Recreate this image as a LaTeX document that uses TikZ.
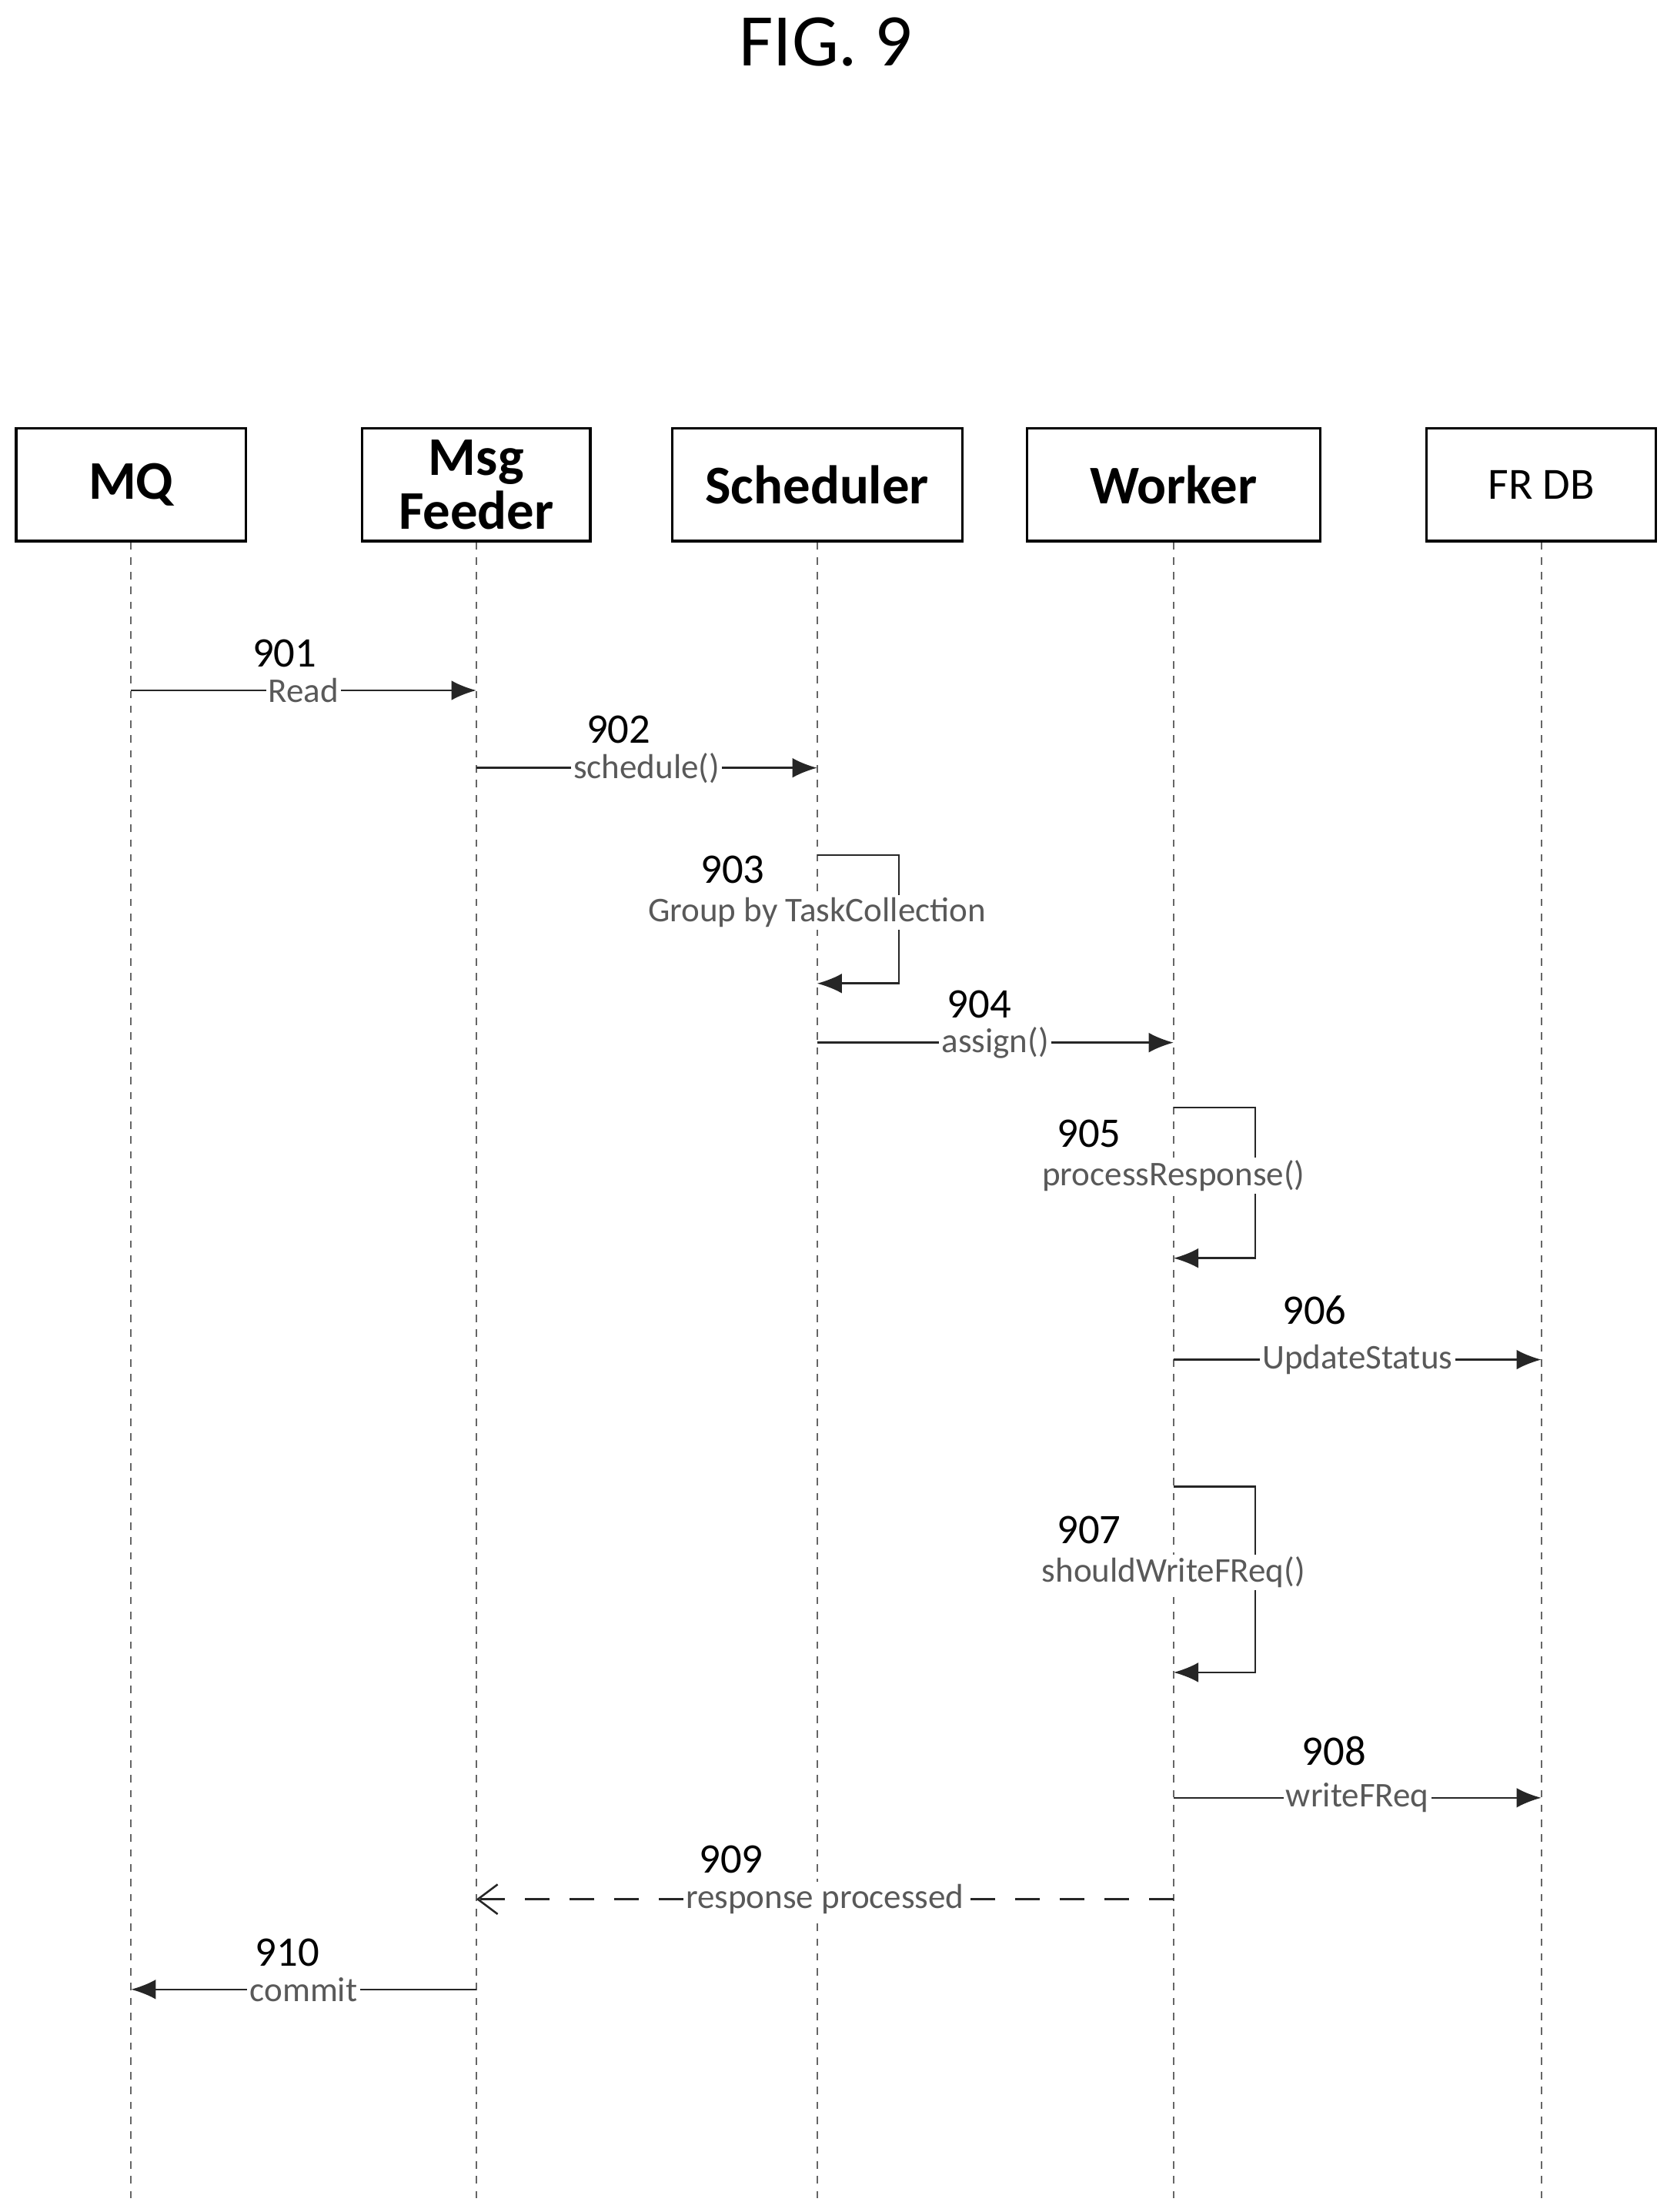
\documentclass[tikz,border=0pt]{standalone}
\usepackage{fontspec}
\setmainfont{Carlito}
\usetikzlibrary{arrows.meta}
\begin{document}
\begin{tikzpicture}
[x=0.02cm,y=-0.02cm]
\tikzset{box/.style={draw,line width=1pt,minimum width=#1*0.02cm,minimum height=1.6cm,inner sep=0pt,align=center},
life/.style={dashed,gray!80!black,line width=0.6pt},
msg/.style={->,>={Latex[length=10pt,width=8pt]},line width=0.8pt,gray!30!black},
ret/.style={->,>={Straight Barb[length=8pt,width=12pt]},dashed,dash pattern=on 10pt off 8pt,line width=0.8pt,gray!30!black},
num/.style={font=\fontsize{17}{19}\selectfont},
lab/.style={fill=white,inner sep=1pt,font=\fontsize{14}{16}\selectfont,text=gray!70!black}}
\useasboundingbox (0,0) rectangle (1190,1570);
\node[font=\fontsize{30}{34}\selectfont] (title) at (586,30) {FIG. 9};
\node[box=163,font=\fontsize{22}{24}\selectfont\bfseries] (mq) at (93,344) {MQ};
\node[box=162,font=\fontsize{22}{22}\selectfont\bfseries] (mf) at (338,344) {Msg\\Feeder};
\node[box=206,font=\fontsize{22}{24}\selectfont\bfseries] (sc) at (580,344) {Scheduler};
\node[box=208,font=\fontsize{22}{24}\selectfont\bfseries] (wk) at (833,344) {Worker};
\node[box=163,font=\fontsize{18}{20}\selectfont] (db) at (1094,344) {FR DB};
\foreach \n/\x in {mq/93,mf/338,sc/580,wk/833,db/1094}
{
\coordinate (\n e) at (\x,1560);
\draw[life] (\n.south) -- (\n e);
}
% messages
\foreach \a/\b/\y/\k/\t/\nx/\ny in {93/338/490/901/Read/202/464,338/580/545/902/schedule()/439/518,580/833/740/904/assign()/695/713,833/1094/965/906/UpdateStatus/933/930,833/1094/1276/908/writeFReq/947/1243}
{
\coordinate (s\k) at (\a,\y);
\coordinate (t\k) at (\b,\y);
\draw[msg] (s\k) -- (t\k) node[midway,lab] {\t};
\node[num] (n\k) at (\nx,\ny) {\k};
}
% self calls
\foreach \x/\ya/\yb/\k/\t in {580/607/698/903/Group by TaskCollection,833/786/893/905/processResponse(),833/1055/1187/907/shouldWriteFReq()}
{
\coordinate (a\k) at (\x,\ya);
\coordinate (b\k) at (\x,\yb);
\draw[msg] (a\k) -- ++(58,0) |- (b\k);
\node[lab] (l\k) at (\x,{(\ya+\yb)/2-5}) {\t};
\node[num] (n\k) at ([xshift=-1.2cm,yshift=0.6cm]l\k) {\k};
}
\coordinate (s909) at (833,1348);
\coordinate (t909) at (338,1348);
\draw[ret] (s909) -- (t909) node[pos=0.5,lab] {response processed};
\node[num] (n909) at (519,1320) {909};
\coordinate (s910) at (338,1412);
\coordinate (t910) at (93,1412);
\draw[msg] (s910) -- (t910) node[midway,lab] {commit};
\node[num] (n910) at (204,1386) {910};
\end{tikzpicture}
\end{document}
